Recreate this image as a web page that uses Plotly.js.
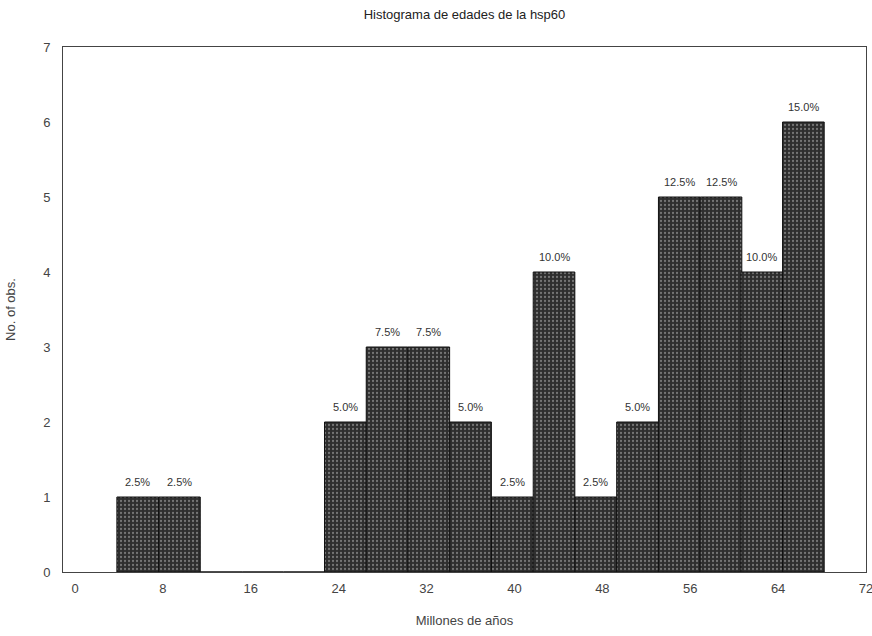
<!DOCTYPE html>
<html>
<head>
<meta charset="utf-8">
<script src="https://cdn.plot.ly/plotly-3.0.1.min.js"></script>
<style>html,body{margin:0;padding:0;background:#fff;}#chart{width:872px;height:636px;}</style>
</head>
<body>
<div id="chart"></div>
<script>
const binCenters = [5.7, 9.5, 13.3, 17.1, 20.9, 24.6, 28.4, 32.2, 36.0, 39.8, 43.6, 47.4, 51.2, 55.0, 58.8, 62.5, 66.3];
const counts = [1, 1, 0, 0, 0, 2, 3, 3, 2, 1, 4, 1, 2, 5, 5, 4, 6];
const binWidth = 3.79;
const xTicks = [0, 8, 16, 24, 32, 40, 48, 56, 64, 72];
const yTicks = [0, 1, 2, 3, 4, 5, 6, 7];
const total = counts.reduce((a, b) => a + b, 0);
const pctLabels = counts.map(c => (100 * c / total).toFixed(1) + '%');

const annotations = [];
binCenters.forEach((x, i) => {
  if (counts[i] > 0) {
    annotations.push({
      x: x, y: counts[i], xref: 'x', yref: 'y', text: pctLabels[i],
      showarrow: false, yanchor: 'bottom', yshift: 7,
      bgcolor: '#ffffff', borderpad: 1,
      font: {family: 'Liberation Sans, Arial, sans-serif', size: 11, color: '#333'}
    });
  }
});

const trace = {
  type: 'bar', x: binCenters, y: counts, width: binWidth,
  marker: {
    color: '#2e2e2e',
    line: {color: '#111', width: 1},
    pattern: {shape: '.', fgcolor: '#bbbbbb', size: 4, solidity: 0.25, fillmode: 'overlay'}
  },
  hoverinfo: 'none'
};

const layout = {
  width: 872, height: 636,
  margin: {l: 63, r: 6, t: 47, b: 64},
  paper_bgcolor: '#fff', plot_bgcolor: '#fff',
  showlegend: false,
  bargap: 0,
  title: {text: 'Histograma de edades de la hsp60', xref: 'paper', x: 0.5, xanchor: 'center', y: 0.985, yanchor: 'top',
          font: {family: 'Liberation Sans, Arial, sans-serif', size: 13, color: '#222'}},
  xaxis: {
    range: [-1.1, 72], tickvals: xTicks, ticktext: xTicks.map(String),
    showgrid: false, zeroline: false, showline: true, mirror: true,
    linecolor: '#444', linewidth: 1, ticks: '', ticklen: 0,
    ticklabeloverflow: 'allow', ticklabelstandoff: 4,
    tickfont: {family: 'Liberation Sans, Arial, sans-serif', size: 13, color: '#444'},
    title: {text: 'Millones de años', standoff: 21, font: {family: 'Liberation Sans, Arial, sans-serif', size: 13, color: '#444'}}
  },
  yaxis: {
    range: [0, 7], tickvals: yTicks, ticktext: yTicks.map(String),
    showgrid: false, zeroline: false, showline: true, mirror: true,
    linecolor: '#444', linewidth: 1, ticks: '', ticklen: 0,
    ticklabelstandoff: 9,
    tickfont: {family: 'Liberation Sans, Arial, sans-serif', size: 13, color: '#444'},
    title: {text: 'No. of obs.', standoff: 24, font: {family: 'Liberation Sans, Arial, sans-serif', size: 13, color: '#444'}}
  },
  annotations: annotations
};

Plotly.newPlot('chart', [trace], layout, {staticPlot: true, displayModeBar: false});
</script>
</body>
</html>
